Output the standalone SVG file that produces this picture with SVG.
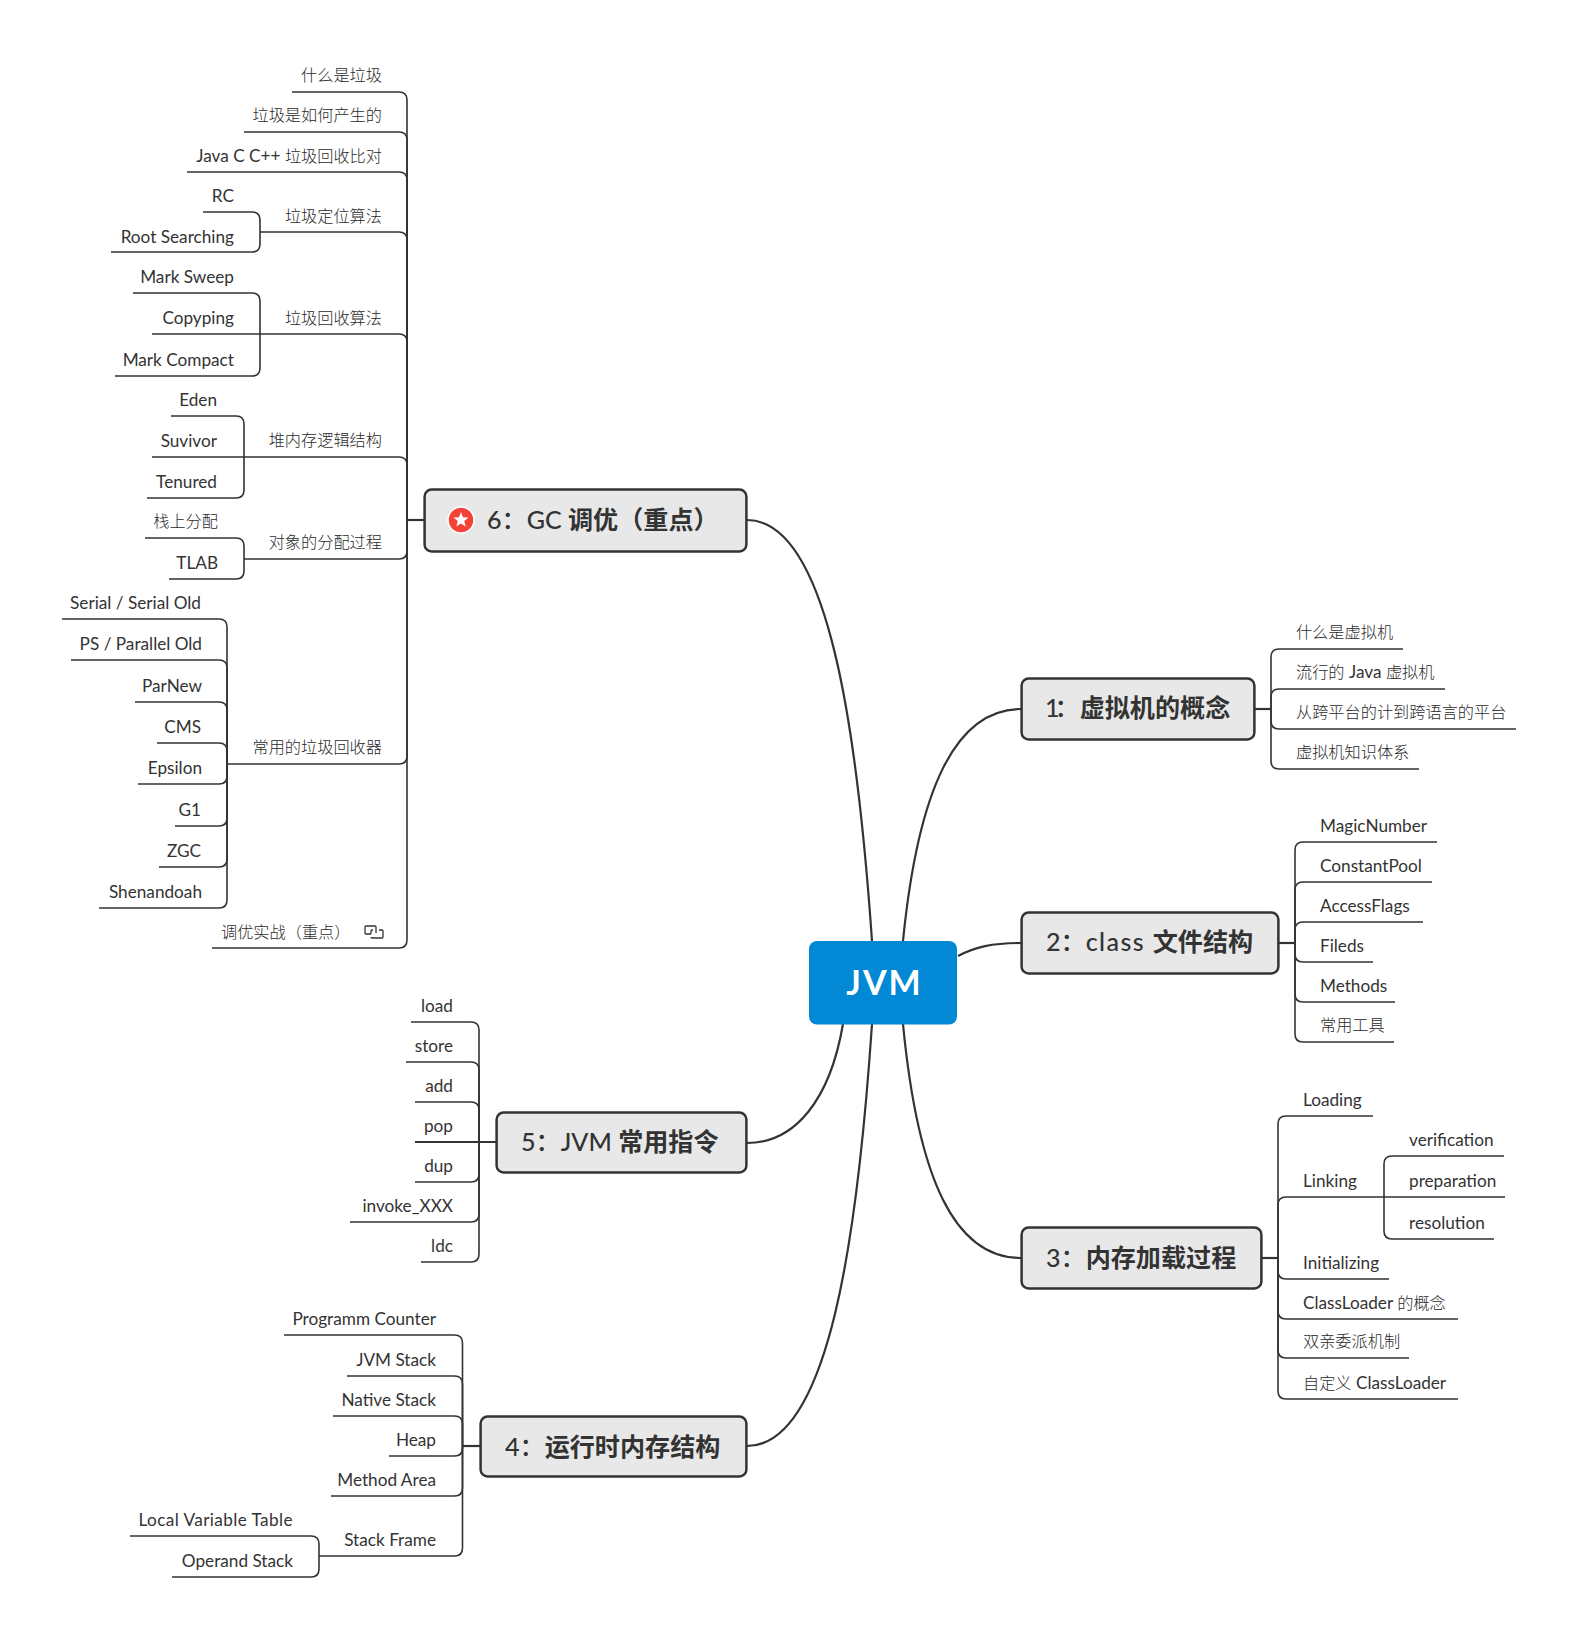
<svg xmlns="http://www.w3.org/2000/svg" width="1578" height="1640" viewBox="0 0 1578 1640">
<style>
text{font-family:"Lato","Noto Sans CJK SC",sans-serif;fill:#333}
.l{font-size:17.2px}
.c{font-size:16.2px;font-weight:300;fill:#2a2a2a}
text.c{transform:translateY(-0.8px)}
.e{text-anchor:end}
.t{font-size:25.1px;font-weight:500}
.t tspan{font-weight:700}
.box{fill:#e8e8e8;stroke:#333;stroke-width:2.5}
#connectors path{fill:none;stroke:#333;stroke-width:1.6}
#connectors .m{stroke-width:2.2}
</style>
<rect width="1578" height="1640" fill="#fff"/>
<g id="connectors">
<path class="m" d="M747 520C830 520 858 740 872 941"/>
<path class="m" d="M1021 709C955 709 918 790 903 941"/>
<path class="m" d="M1021 943C992 943 975 947 958 956"/>
<path class="m" d="M1021 1258C955 1258 918 1180 903 1024"/>
<path class="m" d="M747 1446C830 1446 858 1230 872 1024"/>
<path class="m" d="M747 1143C795 1143 830 1100 843 1024"/>
<path class="m" d="M424 520H407"/>
<path d="M407 520V100Q407 92 399 92H292"/>
<path d="M407 520V140Q407 132 399 132H244"/>
<path d="M407 520V180Q407 172 399 172H187"/>
<path d="M407 520V240Q407 232 399 232H260"/>
<path d="M407 520V342Q407 334 399 334H152"/>
<path d="M407 520V465Q407 457 399 457H152"/>
<path d="M407 520V551Q407 559 399 559H244"/>
<path d="M407 520V756Q407 764 399 764H227"/>
<path d="M407 520V940Q407 948 399 948H212"/>
<path d="M260 232V220Q260 212 252 212H203"/>
<path d="M260 232V244Q260 252 252 252H111"/>
<path d="M260 334V301Q260 293 252 293H133"/>
<path d="M260 334V368Q260 376 252 376H115"/>
<path d="M244 457V424Q244 416 236 416H171"/>
<path d="M244 457V490Q244 498 236 498H147"/>
<path d="M244 559V546Q244 538 236 538H145"/>
<path d="M244 559V571Q244 579 236 579H169"/>
<path d="M227 764V627Q227 619 219 619H62"/>
<path d="M227 764V668Q227 660 219 660H71"/>
<path d="M227 764V710Q227 702 219 702H135"/>
<path d="M227 764V751Q227 743 219 743H157"/>
<path d="M227 764V776Q227 784 219 784H138"/>
<path d="M227 764V818Q227 826 219 826H175"/>
<path d="M227 764V859Q227 867 219 867H159"/>
<path d="M227 764V900Q227 908 219 908H99"/>
<path class="m" d="M496 1142H415"/>
<path d="M479 1142V1030Q479 1022 471 1022H411"/>
<path d="M479 1142V1070Q479 1062 471 1062H406"/>
<path d="M479 1142V1110Q479 1102 471 1102H415"/>
<path d="M479 1142V1174Q479 1182 471 1182H415"/>
<path d="M479 1142V1214Q479 1222 471 1222H350"/>
<path d="M479 1142V1254Q479 1262 471 1262H421"/>
<path class="m" d="M480 1446H462.5"/>
<path d="M462.5 1446V1343Q462.5 1335 454.500 1335H284"/>
<path d="M462.5 1446V1384Q462.5 1376 454.500 1376H347"/>
<path d="M462.5 1446V1424Q462.5 1416 454.500 1416H333"/>
<path d="M462.5 1446V1448Q462.5 1456 454.500 1456H389"/>
<path d="M462.5 1446V1488Q462.5 1496 454.500 1496H331"/>
<path d="M462.5 1446V1548Q462.5 1556 454.500 1556H319"/>
<path d="M319 1556V1544Q319 1536 311 1536H130"/>
<path d="M319 1556V1569Q319 1577 311 1577H172"/>
<path class="m" d="M1255 709H1271"/>
<path d="M1271 709V657Q1271 649 1279 649H1403"/>
<path d="M1271 709V697Q1271 689 1279 689H1445"/>
<path d="M1271 709V721Q1271 729 1279 729H1516"/>
<path d="M1271 709V761Q1271 769 1279 769H1419"/>
<path class="m" d="M1279 943H1295"/>
<path d="M1295 943V850Q1295 842 1303 842H1437"/>
<path d="M1295 943V890Q1295 882 1303 882H1432"/>
<path d="M1295 943V930Q1295 922 1303 922H1423"/>
<path d="M1295 943V954Q1295 962 1303 962H1373"/>
<path d="M1295 943V994Q1295 1002 1303 1002H1395"/>
<path d="M1295 943V1034Q1295 1042 1303 1042H1394"/>
<path class="m" d="M1262 1258H1278"/>
<path d="M1278 1258V1124Q1278 1116 1286 1116H1373"/>
<path d="M1278 1258V1205Q1278 1197 1286 1197H1505"/>
<path d="M1278 1258V1271Q1278 1279 1286 1279H1389"/>
<path d="M1278 1258V1311Q1278 1319 1286 1319H1458"/>
<path d="M1278 1258V1350Q1278 1358 1286 1358H1409"/>
<path d="M1278 1258V1391Q1278 1399 1286 1399H1458"/>
<path d="M1384 1197V1164Q1384 1156 1392 1156H1504"/>
<path d="M1384 1197V1231Q1384 1239 1392 1239H1494"/>
</g>
<g id="root"><rect x="809" y="941" width="148" height="83.500" rx="8" fill="#0288d4"/><text x="884.500" y="995" text-anchor="middle" font-size="34" font-weight="700" letter-spacing="2" style="fill:#fff">JVM</text></g>
<g id="topic1"><rect class="box" x="1021.600" y="678.600" width="232.800" height="60.800" rx="7"/><text class="t" x="1045" y="717"><tspan style="font-weight:500" letter-spacing="-5">1</tspan>：<tspan>虚拟机的概念</tspan></text></g>
<g id="topic2"><rect class="box" x="1021.600" y="912.600" width="256.800" height="60.800" rx="7"/><text class="t" x="1046" y="951">2：<tspan style="font-weight:500" letter-spacing="1.400">class </tspan><tspan>文件结构</tspan></text></g>
<g id="topic3"><rect class="box" x="1021.600" y="1227.600" width="239.800" height="60.800" rx="7"/><text class="t" x="1046" y="1267">3：<tspan>内存加载过程</tspan></text></g>
<g id="topic4"><rect class="box" x="480.600" y="1416.600" width="265.800" height="59.800" rx="7"/><text class="t" x="505" y="1456">4：<tspan>运行时内存结构</tspan></text></g>
<g id="topic5"><rect class="box" x="496.600" y="1112.600" width="249.800" height="59.800" rx="7"/><text class="t" x="521" y="1151">5：JVM <tspan>常用指令</tspan></text></g>
<g id="topic6"><rect class="box" x="424.600" y="489.600" width="321.800" height="61.800" rx="7"/><circle cx="461" cy="520" r="13" fill="#f44336" stroke="#fff" stroke-width="1.500"/><polygon fill="#fff" points="461,512 463,517.200 468.600,517.500 464.200,521 465.700,526.500 461,523.400 456.300,526.500 457.800,521 453.400,517.500 459,517.200"/><text class="t" x="487" y="529">6：GC <tspan>调优（重点）</tspan></text></g>
<g id="n6-1"><text class="c e" x="382" y="82">什么是垃圾</text></g>
<g id="n6-2"><text class="c e" x="382" y="122">垃圾是如何产生的</text></g>
<g id="n6-3"><text class="l e" x="382" y="162">Java C C++ <tspan class="c">垃圾回收比对</tspan></text></g>
<g id="n6-4"><text class="c e" x="382" y="223">垃圾定位算法</text></g>
<g id="n6-4-1"><text class="l e" x="234" y="202">RC</text></g>
<g id="n6-4-2"><text class="l e" x="234" y="243">Root Searching</text></g>
<g id="n6-5"><text class="c e" x="382" y="325">垃圾回收算法</text></g>
<g id="n6-5-1"><text class="l e" x="234" y="283">Mark Sweep</text></g>
<g id="n6-5-2"><text class="l e" x="234" y="324">Copyping</text></g>
<g id="n6-5-3"><text class="l e" x="234" y="366">Mark Compact</text></g>
<g id="n6-6"><text class="c e" x="382" y="447">堆内存逻辑结构</text></g>
<g id="n6-6-1"><text class="l e" x="217" y="406">Eden</text></g>
<g id="n6-6-2"><text class="l e" x="217" y="447">Suvivor</text></g>
<g id="n6-6-3"><text class="l e" x="217" y="488">Tenured</text></g>
<g id="n6-7"><text class="c e" x="382" y="549">对象的分配过程</text></g>
<g id="n6-7-1"><text class="c e" x="218" y="528">栈上分配</text></g>
<g id="n6-7-2"><text class="l e" x="218" y="569">TLAB</text></g>
<g id="n6-8"><text class="c e" x="382" y="754">常用的垃圾回收器</text></g>
<g id="n6-8-1"><text class="l e" x="201" y="609">Serial / Serial Old</text></g>
<g id="n6-8-2"><text class="l e" x="202" y="650">PS / Parallel Old</text></g>
<g id="n6-8-3"><text class="l e" x="202" y="692">ParNew</text></g>
<g id="n6-8-4"><text class="l e" x="201" y="733">CMS</text></g>
<g id="n6-8-5"><text class="l e" x="202" y="774">Epsilon</text></g>
<g id="n6-8-6"><text class="l e" x="201" y="816">G1</text></g>
<g id="n6-8-7"><text class="l e" x="201" y="857">ZGC</text></g>
<g id="n6-8-8"><text class="l e" x="202" y="898">Shenandoah</text></g>
<g id="n6-9"><text class="c" x="221" y="939">调优实战（重点）</text><path d="M371 934H366Q365 934 365 933V927Q365 926 366 926H375Q376 926 376 927V933M371 934V931Q371 930 372 930H373M379 930H382Q383 930 383 931V937Q383 938 382 938H372Q371 938 371 937" fill="none" stroke="#333" stroke-width="1.300"/></g>
<g id="n5-1"><text class="l e" x="453" y="1012">load</text></g>
<g id="n5-2"><text class="l e" x="453" y="1052">store</text></g>
<g id="n5-3"><text class="l e" x="453" y="1092">add</text></g>
<g id="n5-4"><text class="l e" x="453" y="1132">pop</text></g>
<g id="n5-5"><text class="l e" x="453" y="1172">dup</text></g>
<g id="n5-6"><text class="l e" x="453" y="1212">invoke_XXX</text></g>
<g id="n5-7"><text class="l e" x="453" y="1252">ldc</text></g>
<g id="n4-1"><text class="l e" x="436" y="1325">Programm Counter</text></g>
<g id="n4-2"><text class="l e" x="436" y="1366">JVM Stack</text></g>
<g id="n4-3"><text class="l e" x="436" y="1406">Native Stack</text></g>
<g id="n4-4"><text class="l e" x="436" y="1446">Heap</text></g>
<g id="n4-5"><text class="l e" x="436" y="1486">Method Area</text></g>
<g id="n4-6"><text class="l e" x="436" y="1546">Stack Frame</text></g>
<g id="n4-6-1"><text class="l e" x="293" y="1526" letter-spacing="0.400">Local Variable Table</text></g>
<g id="n4-6-2"><text class="l e" x="293" y="1567">Operand Stack</text></g>
<g id="n1-1"><text class="c" x="1296" y="639">什么是虚拟机</text></g>
<g id="n1-2"><text class="l" x="1296" y="678"><tspan class="c">流行的 </tspan>Java <tspan class="c">虚拟机</tspan></text></g>
<g id="n1-3"><text class="c" x="1296" y="719">从跨平台的计到跨语言的平台</text></g>
<g id="n1-4"><text class="c" x="1296" y="759">虚拟机知识体系</text></g>
<g id="n2-1"><text class="l" x="1320" y="832">MagicNumber</text></g>
<g id="n2-2"><text class="l" x="1320" y="872">ConstantPool</text></g>
<g id="n2-3"><text class="l" x="1320" y="912">AccessFlags</text></g>
<g id="n2-4"><text class="l" x="1320" y="952">Fileds</text></g>
<g id="n2-5"><text class="l" x="1320" y="992">Methods</text></g>
<g id="n2-6"><text class="c" x="1320" y="1032">常用工具</text></g>
<g id="n3-1"><text class="l" x="1303" y="1106">Loading</text></g>
<g id="n3-2"><text class="l" x="1303" y="1187">Linking</text></g>
<g id="n3-2-1"><text class="l" x="1409" y="1146">verification</text></g>
<g id="n3-2-2"><text class="l" x="1409" y="1187">preparation</text></g>
<g id="n3-2-3"><text class="l" x="1409" y="1229">resolution</text></g>
<g id="n3-3"><text class="l" x="1303" y="1269">Initializing</text></g>
<g id="n3-4"><text class="l" x="1303" y="1309">ClassLoader <tspan class="c">的概念</tspan></text></g>
<g id="n3-5"><text class="c" x="1303" y="1348">双亲委派机制</text></g>
<g id="n3-6"><text class="l" x="1303" y="1389"><tspan class="c">自定义 </tspan>ClassLoader</text></g>
</svg>
